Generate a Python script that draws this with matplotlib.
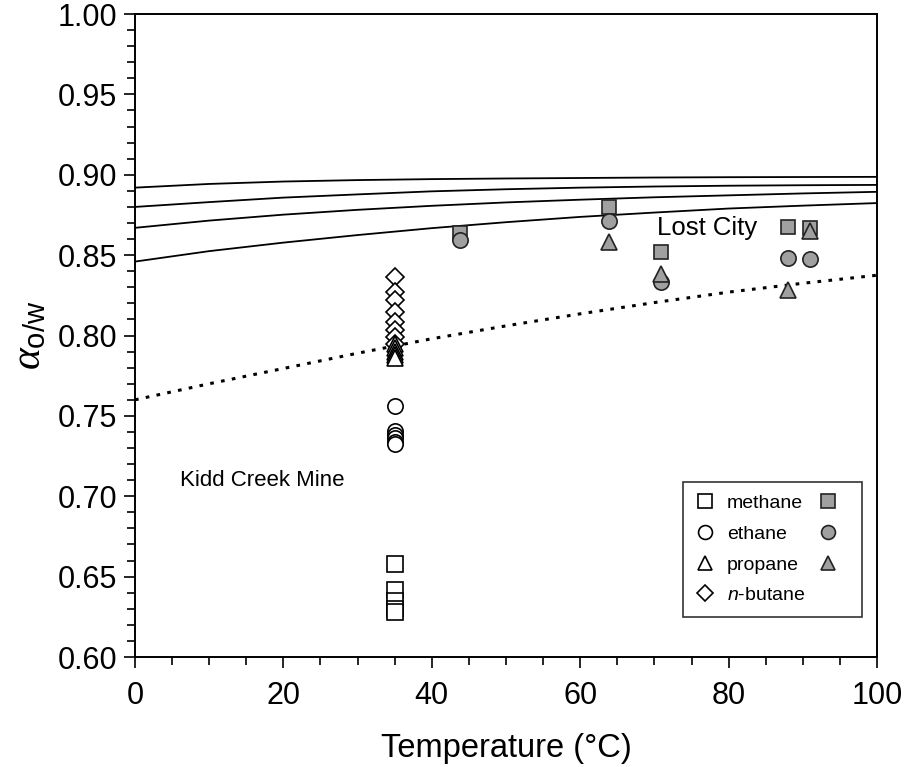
import matplotlib
matplotlib.use('Agg')
import matplotlib.pyplot as plt
from matplotlib.ticker import MultipleLocator
from matplotlib.lines import Line2D

plt.rcParams['font.family'] = ['Liberation Sans', 'DejaVu Sans']
plt.rcParams['mathtext.fontset'] = 'custom'
plt.rcParams['mathtext.rm'] = 'Liberation Sans'
plt.rcParams['mathtext.it'] = 'Liberation Serif:italic'
plt.rcParams['mathtext.sf'] = 'Liberation Sans:italic'

# model curves (every 10 degC)
t_curve = [0, 10, 20, 30, 40, 50, 60, 70, 80, 90, 100]
curve_1 = [0.892, 0.8943, 0.8958, 0.8967, 0.8973, 0.8977, 0.898, 0.8983, 0.8985, 0.8986, 0.8987]
curve_2 = [0.880, 0.883, 0.8858, 0.8878, 0.8897, 0.891, 0.892, 0.8927, 0.8932, 0.8935, 0.8937]
curve_3 = [0.867, 0.8715, 0.8752, 0.8782, 0.8807, 0.8828, 0.8845, 0.886, 0.8872, 0.8884, 0.8894]
curve_4 = [0.846, 0.8525, 0.8578, 0.8625, 0.8668, 0.8705, 0.8738, 0.8765, 0.879, 0.8808, 0.8824]
curve_dot = [0.760, 0.770, 0.7795, 0.789, 0.798, 0.806, 0.8135, 0.8205, 0.827, 0.8325, 0.8375]

# Kidd Creek Mine (all at 35 degC)
kc_temp = 35.0
kc_methane = [0.658, 0.6415, 0.635, 0.630, 0.628]
kc_ethane = [0.756, 0.7405, 0.738, 0.736, 0.734, 0.7325]
kc_propane = [0.795, 0.7925, 0.790, 0.788, 0.786]
kc_butane = [0.8364, 0.8271, 0.822, 0.8147, 0.8085, 0.8034, 0.799, 0.795]

# Lost City
lc_t_methane = [43.8, 63.9, 70.9, 88.0, 91.0]
lc_methane = [0.864, 0.8797, 0.852, 0.8673, 0.8668]
lc_t_ethane = [43.8, 63.9, 70.9, 88.0, 91.0]
lc_ethane = [0.8597, 0.8715, 0.8333, 0.8481, 0.8475]
lc_t_propane = [63.9, 70.9, 88.0, 91.0]
lc_propane = [0.858, 0.8385, 0.8282, 0.865]

legend_names = ['methane', 'ethane', 'propane', r'$\mathsf{n}$-butane']

fig = plt.figure(figsize=(9.06, 7.67), dpi=100)
ax = fig.add_axes([0.149, 0.1434, 0.819, 0.8383])

for c in [curve_1, curve_2, curve_3, curve_4]:
    ax.plot(t_curve, c, color='black', lw=1.3, zorder=3)
ax.plot(t_curve, curve_dot, color='black', lw=2.2, linestyle=(0, (1.2, 2.4)), zorder=3)

ms = 11
open_kw = dict(mfc='white', mec='black', mew=1.2, ls='none', ms=ms, zorder=4)
ax.plot([kc_temp] * len(kc_methane), kc_methane, marker='s', **open_kw)
ax.plot([kc_temp] * len(kc_ethane), kc_ethane, marker='o', **open_kw)
ax.plot([kc_temp] * len(kc_butane), kc_butane, marker='D', **dict(open_kw, ms=9.5))
ax.plot([kc_temp] * len(kc_propane), kc_propane, marker='^', **open_kw)

gray = '#a0a0a0'
fill_kw = dict(mfc=gray, mec='#222222', mew=1.2, ls='none', ms=ms, zorder=4)
ax.plot(lc_t_methane, lc_methane, marker='s', **dict(fill_kw, ms=10))
ax.plot(lc_t_ethane, lc_ethane, marker='o', **fill_kw)
ax.plot(lc_t_propane, lc_propane, marker='^', **fill_kw)

ax.text(6.0, 0.710, 'Kidd Creek Mine', fontsize=16, va='center')
ax.text(70.3, 0.867, 'Lost City', fontsize=18.5, va='center')

ax.set_xlim(0, 100)
ax.set_ylim(0.60, 1.00)
ax.xaxis.set_major_locator(MultipleLocator(20))
ax.xaxis.set_minor_locator(MultipleLocator(5))
ax.yaxis.set_major_locator(MultipleLocator(0.05))
ax.yaxis.set_minor_locator(MultipleLocator(0.01))
ax.yaxis.set_major_formatter(matplotlib.ticker.FormatStrFormatter('%.2f'))
ax.tick_params(which='both', direction='out', width=1.2, labelsize=22)
ax.tick_params(which='major', length=8)
ax.tick_params(which='minor', length=6)
ax.tick_params(axis='x', pad=9)
ax.tick_params(axis='y', pad=5)
for s in ax.spines.values():
    s.set_linewidth(1.4)

ax.set_xlabel('Temperature (°C)', fontsize=23.5, labelpad=16)
ax.set_ylabel(r'$\alpha_{\mathrm{o/w}}$', fontsize=30, labelpad=6)

# legend: open symbols with names, filled symbols in a second column
mk = ['s', 'o', '^', 'D']
handles = [Line2D([], [], marker=m, mfc='white', mec='black', mew=1.2, ls='none',
                  ms=10 if m != 'D' else 8.5) for m in mk]
handles += [Line2D([], [], marker=m, mfc=gray, mec='#222222', mew=1.2, ls='none', ms=10)
            for m in mk[:3]]
labels = legend_names + ['', '', '']
leg = ax.legend(handles, labels, ncol=2, loc='lower right', bbox_to_anchor=(0.980, 0.0625),
                fontsize=14, frameon=True, fancybox=False, edgecolor='black',
                handlelength=1.0, handletextpad=0.6, columnspacing=0.7,
                labelspacing=0.67, borderpad=0.65, borderaxespad=0)
leg.get_frame().set_linewidth(1.2)

fig.savefig('out.png', dpi=100)
